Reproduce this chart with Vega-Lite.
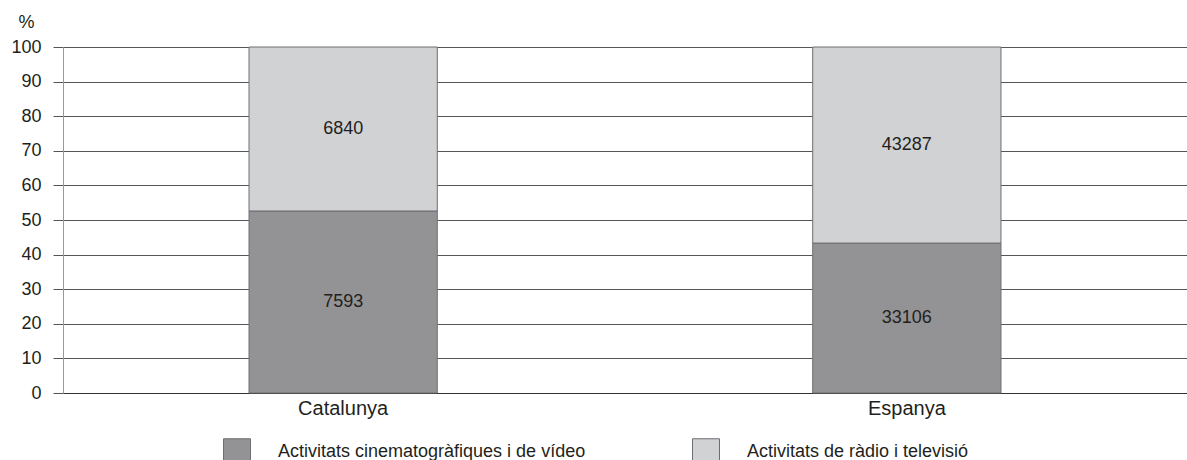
{
  "$schema": "https://vega.github.io/schema/vega-lite/v6.json",
  "autosize": {"type": "none"},
  "padding": {"left": 63, "top": 47, "right": 0, "bottom": 67},
  "width": 1124,
  "height": 346,
  "background": "white",
  "config": {
    "font": "Liberation Sans",
    "view": {"stroke": null},
    "axisY": {
      "title": "%",
      "titleAngle": 0,
      "titleAlign": "center",
      "titleBaseline": "middle",
      "titleX": -37,
      "titleY": -25,
      "titleFontSize": 18,
      "titleFontWeight": "normal",
      "titleColor": "#231f20",
      "values": [0, 10, 20, 30, 40, 50, 60, 70, 80, 90, 100],
      "labelOverlap": false,
      "labelFontSize": 18,
      "labelColor": "#231f20",
      "labelPadding": 12,
      "tickSize": 10,
      "tickColor": "#555555",
      "domainColor": "#999999",
      "grid": true,
      "gridColor": "#555555",
      "gridWidth": 1
    }
  },
  "data": {
    "values": [
      {"country": "Catalunya", "category": "Activitats cinematogràfiques i de vídeo", "value": 7593},
      {"country": "Catalunya", "category": "Activitats de ràdio i televisió", "value": 6840},
      {"country": "Espanya", "category": "Activitats cinematogràfiques i de vídeo", "value": 33106},
      {"country": "Espanya", "category": "Activitats de ràdio i televisió", "value": 43287}
    ]
  },
  "transform": [
    {"stack": "value", "groupby": ["country"], "sort": [{"field": "category", "order": "ascending"}], "offset": "normalize", "as": ["s0", "s1"]},
    {"calculate": "datum.s0*100", "as": "p0"},
    {"calculate": "datum.s1*100", "as": "p1"},
    {"calculate": "(datum.p0+datum.p1)/2", "as": "pmid"}
  ],
  "encoding": {
    "x": {
      "field": "country",
      "type": "nominal",
      "scale": {"paddingInner": 0.666, "paddingOuter": 0.33},
      "axis": {
        "title": null,
        "labelAngle": 0,
        "labelFontSize": 20,
        "labelColor": "#231f20",
        "labelPadding": 5,
        "ticks": false,
        "domainColor": "#333333",
        "domainWidth": 1.2
      }
    }
  },
  "layer": [
    {
      "mark": {"type": "bar", "stroke": "#6d6e71", "strokeWidth": 1},
      "encoding": {
        "y": {
          "field": "p0",
          "type": "quantitative",
          "title": "%",
          "scale": {"domain": [0, 100], "nice": false},
          "axis": {"values": [0, 10, 20, 30, 40, 50, 60, 70, 80, 90, 100]}
        },
        "y2": {"field": "p1"},
        "color": {
          "field": "category",
          "type": "nominal",
          "scale": {
            "domain": ["Activitats cinematogràfiques i de vídeo", "Activitats de ràdio i televisió"],
            "range": ["#939396", "#d1d2d4"]
          },
          "legend": {
            "title": null,
            "orient": "none",
            "direction": "horizontal",
            "legendX": 160,
            "legendY": 391,
            "symbolType": "square",
            "symbolSize": 729,
            "symbolStrokeColor": "#6d6e71",
            "symbolStrokeWidth": 1,
            "symbolOpacity": 1,
            "labelFontSize": 18,
            "labelColor": "#231f20",
            "labelOffset": 27,
            "labelLimit": 500,
            "columnPadding": 104
          }
        }
      }
    },
    {
      "mark": {"type": "text", "fontSize": 18, "color": "#231f20"},
      "encoding": {
        "y": {
          "field": "pmid",
          "type": "quantitative",
          "title": "%",
          "axis": {"values": [0, 10, 20, 30, 40, 50, 60, 70, 80, 90, 100]}
        },
        "text": {"field": "value", "type": "quantitative", "format": "d"}
      }
    }
  ]
}
